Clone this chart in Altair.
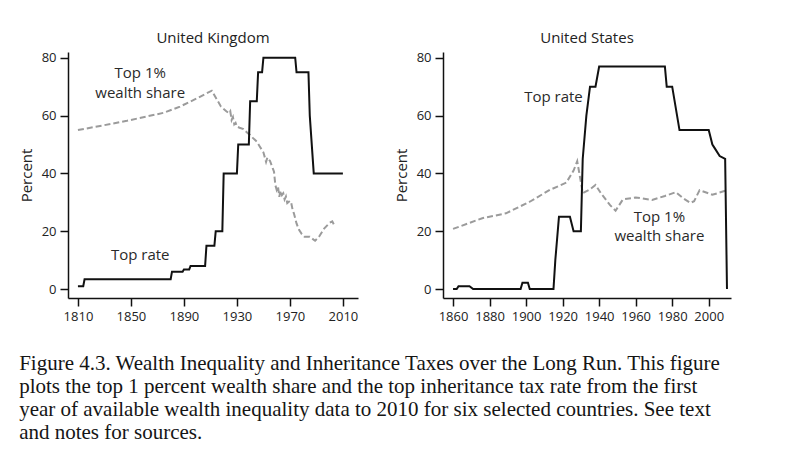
import altair as alt
import pandas as pd

# --- United Kingdom -------------------------------------------------------
uk_rate_year = [1810, 1814, 1815, 1880, 1881, 1889, 1890, 1894, 1895, 1906, 1907,
                1913, 1914, 1919, 1920, 1930, 1931, 1939, 1940, 1945, 1946, 1949,
                1950, 1974, 1975, 1984, 1985, 1988, 2010]
uk_rate_value = [1, 1, 3.4, 3.4, 6, 6, 6.8, 6.8, 8, 8, 15,
                 15, 20, 20, 40, 40, 50, 50, 65, 65, 75, 75,
                 80, 80, 75, 75, 60, 40, 40]

uk_share_year = [1810, 1830, 1847, 1875, 1887, 1900, 1911, 1918, 1922, 1924, 1925,
                 1926, 1927, 1928, 1929, 1930, 1932, 1935, 1938, 1940, 1942, 1945,
                 1947, 1950, 1952, 1953, 1955, 1957, 1958, 1959, 1960, 1961, 1962,
                 1963, 1964, 1965, 1966, 1967, 1968, 1970, 1971, 1972, 1973, 1974,
                 1975, 1976, 1977, 1979, 1981, 1985, 1989, 1992, 1996, 2000, 2002,
                 2003, 2004]
uk_share_value = [55, 56.7, 58.2, 61, 63.1, 66, 68.6, 63.1, 61.5, 60.8, 61.5,
                  58.5, 59.5, 57, 57.5, 56.2, 55.8, 55.3, 54, 53.3, 52.3, 51,
                  49.5, 47.3, 44, 45.5, 44.3, 41.8, 40.6, 36, 34.3, 35.5, 31.9,
                  34, 32.5, 33.1, 31, 32, 29.7, 30.5, 29.8, 27.5, 26.2, 24.5,
                  22.7, 21.5, 20.4, 19, 18.1, 18.1, 16.7, 18.1, 21, 22.9, 23.4,
                  22.5, 21.6]

# --- United States --------------------------------------------------------
us_rate_year = [1860, 1862, 1863, 1869, 1871, 1897, 1898, 1901, 1902, 1915, 1916,
                1918, 1924, 1926, 1930, 1931, 1933, 1935, 1938, 1940, 1976, 1977,
                1980, 1984, 2000, 2002, 2003, 2006, 2009, 2010]
us_rate_value = [0, 0, 1, 1, 0, 0, 2.2, 2.2, 0, 0, 10,
                 25, 25, 20, 20, 45, 60, 70, 70, 77, 77, 70,
                 70, 55, 55, 50, 49, 46, 45, 0]

us_share_year = [1860, 1876, 1889, 1902, 1913, 1922, 1926, 1928, 1930, 1931, 1935,
                 1938, 1941, 1946, 1949, 1953, 1960, 1969, 1976, 1982, 1986, 1990,
                 1992, 1995, 1999, 2002, 2009]
us_share_value = [20.8, 24.5, 26.2, 30.2, 34.3, 36.8, 41, 44.2, 37, 33.2, 34.5,
                  36, 33.1, 29, 27.1, 31, 31.7, 30.8, 32.2, 33.5, 31.4, 29.8,
                  30.4, 34.2, 33.3, 32.6, 34]

# Series annotations (data coordinates)
uk_label_text = ["Top 1%", "wealth share", "Top rate"]
uk_label_year = [1857, 1857, 1857]
uk_label_value = [74.7, 67.8, 11.8]

us_label_text = ["Top rate", "Top 1%", "wealth share"]
us_label_year = [1915, 1973, 1973]
us_label_value = [66.3, 24.8, 18.3]

y_ticks = [0, 20, 40, 60, 80]
uk_x_ticks = [1810, 1850, 1890, 1930, 1970, 2010]
us_x_ticks = [1860, 1880, 1900, 1920, 1940, 1960, 1980, 2000]

caption_lines = [
    "Figure 4.3. Wealth Inequality and Inheritance Taxes over the Long Run. This figure",
    "plots the top 1 percent wealth share and the top inheritance tax rate from the first",
    "year of available wealth inequality data to 2010 for six selected countries. See text",
    "and notes for sources.",
]

SANS = "Open Sans"
SERIF = "Liberation Serif"


def panel(title, rate_y, rate_v, share_y, share_v, lab_t, lab_y, lab_v,
          x_domain, x_ticks, width):
    rate = pd.DataFrame({"year": rate_y, "value": rate_v})
    share = pd.DataFrame({"year": share_y, "value": share_v})
    labels = pd.DataFrame({"year": lab_y, "value": lab_v, "label": lab_t})

    x = alt.X("year:Q",
              scale=alt.Scale(domain=x_domain, nice=False, zero=False),
              axis=alt.Axis(values=x_ticks, format="d", title=None))
    y = alt.Y("value:Q",
              scale=alt.Scale(domain=[-3.1, 82], nice=False, zero=False),
              axis=alt.Axis(values=y_ticks, title="Percent"))

    share_line = alt.Chart(share).mark_line(
        color="#9b9b9b", strokeWidth=2, strokeDash=[6, 3]
    ).encode(x=x, y=y)
    rate_line = alt.Chart(rate).mark_line(
        color="#111111", strokeWidth=2
    ).encode(x=x, y=y)
    text = alt.Chart(labels).mark_text(
        font=SANS, fontSize=15, color="#2a2a2a", align="center", baseline="middle"
    ).encode(x=x, y=y, text="label:N")

    return alt.layer(share_line, rate_line, text).properties(
        width=width, height=246,
        title=alt.TitleParams(title, font=SANS, fontSize=15, fontWeight="normal",
                              color="#222222", offset=6),
    )


uk = panel("United Kingdom", uk_rate_year, uk_rate_value, uk_share_year, uk_share_value,
           uk_label_text, uk_label_year, uk_label_value,
           [1802.5, 2021.4], uk_x_ticks, 290)
us = panel("United States", us_rate_year, us_rate_value, us_share_year, us_share_value,
           us_label_text, us_label_year, us_label_value,
           [1854.5, 2012.2], us_x_ticks, 288)

chart = alt.hconcat(uk, us, spacing=36).properties(
    background="white",
    padding={"left": 19, "top": 30, "right": 5, "bottom": 5},
    title=alt.TitleParams(caption_lines, orient="bottom", anchor="start",
                          font=SERIF, fontSize=21, lineHeight=23,
                          fontWeight="normal", color="#151515", offset=30),
).configure_view(stroke=None).configure_axis(
    grid=False,
    domainColor="#111111", domainWidth=1.5,
    tickColor="#111111", tickWidth=1.5, tickSize=8,
    labelFont=SANS, labelFontSize=13, labelColor="#222222", labelPadding=4,
    titleFont=SANS, titleFontSize=15, titleFontWeight="normal",
    titleColor="#222222", titlePadding=7,
)

chart.save("out.html", embed_options={"renderer": "svg", "actions": False})
